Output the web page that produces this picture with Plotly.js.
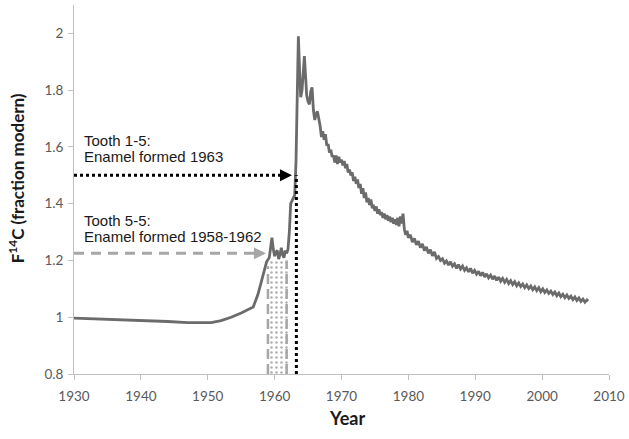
<!DOCTYPE html>
<html>
<head>
<meta charset="utf-8">
<script src="https://cdn.plot.ly/plotly-3.0.1.min.js"></script>
<style>html,body{margin:0;padding:0;background:#fff;}#chart{width:629px;height:439px;}</style>
</head>
<body>
<div id="chart"></div>
<script>
// Atmospheric F14C curve
const years = [
 1930.0,1935.0,1940.0,1944.0,1947.0,1949.0,1950.5,1952.0,1953.5,1955.0,1956.8,1957.5,1958.2,1958.8,
 1959.2,1959.45,1959.6,1959.8,1960.0,1960.2,1960.4,1960.6,1960.8,1961.0,1961.2,1961.4,1961.6,1961.8,1962.0,
 1962.2,1962.4,1962.6,1962.8,1963.0,1963.2,1963.4,1963.55,1963.75,1963.9,1964.1,1964.3,1964.45,1964.6,1964.8,
 1965.0,1965.2,1965.4,1965.6,1965.8,1966.0,1966.2,1966.4,1966.6,1966.8,1967.0,1967.2,1967.4,1967.6,1967.8,
 1968.0,1968.2,1968.4,1968.6,1968.8,1969.0,1969.2,1969.4,1969.6,1969.8,1970.0,1970.2,1970.4,1970.6,1970.8,
 1971.0,1971.2,1971.4,1971.6,1971.8,1972.0,1972.2,1972.4,1972.6,1972.8,1973.0,1973.2,1973.4,1973.6,1973.8,
 1974.0,1974.2,1974.4,1974.6,1974.8,1975.0,1975.2,1975.4,1975.6,1975.8,1976.0,1976.2,1976.4,1976.6,1976.8,
 1977.0,1977.2,1977.4,1977.6,1977.8,1978.0,1978.2,1978.4,1978.6,1978.8,1979.0,1979.2,1979.4,1979.6,1979.8,
 1980.0,1980.3,1980.6,1980.9,1981.2,1981.5,1981.8,1982.1,1982.4,1982.7,1983.0,1983.3,1983.6,1983.9,
 1984.2,1984.5,1984.8,1985.1,1985.4,1985.7,1986.0,1986.3,1986.6,1986.9,1987.2,1987.5,1987.8,1988.1,1988.4,
 1988.7,1989.0,1989.3,1989.6,1989.9,1990.2,1990.5,1990.8,1991.1,1991.4,1991.7,1992.0,1992.3,1992.6,1992.9,
 1993.2,1993.5,1993.8,1994.1,1994.4,1994.7,1995.0,1995.3,1995.6,1995.9,1996.2,1996.5,1996.8,1997.1,1997.4,
 1997.7,1998.0,1998.3,1998.6,1998.9,1999.2,1999.5,1999.8,2000.1,2000.4,2000.7,2001.0,2001.3,2001.6,2001.9,
 2002.2,2002.5,2002.8,2003.1,2003.4,2003.7,2004.0,2004.3,2004.6,2004.9,2005.2,2005.5,2005.8,2006.1,2006.4,
 2006.7,2006.9
];
const f14c = [
 0.997,0.993,0.990,0.985,0.981,0.980,0.981,0.988,1.000,1.015,1.036,1.080,1.140,1.195,
 1.210,1.250,1.280,1.240,1.215,1.230,1.235,1.205,1.220,1.245,1.220,1.210,1.235,1.225,1.240,
 1.300,1.400,1.410,1.420,1.430,1.550,1.850,1.990,1.860,1.775,1.800,1.900,1.920,1.860,1.780,
 1.760,1.750,1.795,1.810,1.730,1.695,1.715,1.725,1.700,1.675,1.635,1.655,1.625,1.645,1.605,
 1.610,1.580,1.590,1.565,1.570,1.545,1.570,1.540,1.565,1.545,1.555,1.535,1.550,1.525,1.540,
 1.510,1.520,1.500,1.510,1.480,1.495,1.470,1.485,1.455,1.470,1.435,1.455,1.420,1.440,1.405,
 1.420,1.395,1.415,1.385,1.390,1.375,1.390,1.365,1.380,1.360,1.370,1.350,1.365,1.345,1.360,
 1.340,1.355,1.335,1.350,1.330,1.345,1.325,1.350,1.320,1.355,1.330,1.365,1.310,1.290,1.305,
 1.280,1.290,1.265,1.278,1.255,1.268,1.245,1.258,1.235,1.248,1.225,1.238,1.216,1.230,
 1.207,1.214,1.200,1.206,1.190,1.198,1.184,1.195,1.180,1.188,1.172,1.185,1.170,1.180,1.165,
 1.174,1.160,1.172,1.155,1.165,1.152,1.162,1.146,1.158,1.142,1.153,1.139,1.148,1.134,1.145,
 1.130,1.141,1.127,1.137,1.123,1.133,1.119,1.129,1.115,1.125,1.111,1.121,1.108,1.117,1.104,
 1.114,1.101,1.110,1.097,1.107,1.094,1.104,1.090,1.100,1.087,1.096,1.084,1.092,1.080,1.089,
 1.076,1.085,1.072,1.081,1.069,1.078,1.066,1.074,1.062,1.071,1.059,1.068,1.056,1.064,1.053,
 1.061,1.057
];
// Tick labels
const xTickVals = [1930,1940,1950,1960,1970,1980,1990,2000,2010];
const yTickVals = [0.8,1,1.2,1.4,1.6,1.8,2];
const yTickText = ['0.8','1','1.2','1.4','1.6','1.8','2'];
// Annotation values
const tooth15 = {level: 1.5, arrowTip: 1962.6, formed: 1963.25};
const tooth55 = {level: 1.225, arrowTip: 1958.7, start: 1959.0, end: 1962.0, top: 1.2};
const tooth15Text = ['Tooth 1-5:', 'Enamel formed 1963'];
const tooth55Text = ['Tooth 5-5:', 'Enamel formed 1958-1962'];

const gray = '#a6a6a6';
const traces = [
  {
    x: [tooth55.start, tooth55.end, tooth55.end, tooth55.start, tooth55.start],
    y: [0.8, 0.8, tooth55.top, tooth55.top, 0.8],
    type: 'scatter', mode: 'lines', fill: 'toself',
    fillcolor: 'rgba(0,0,0,0)',
    fillpattern: {shape: '.', fgcolor: '#b0b0b0', bgcolor: 'rgba(255,255,255,0)', size: 5, solidity: 0.2},
    line: {width: 0}, hoverinfo: 'skip'
  },
  {
    x: years, y: f14c, type: 'scatter', mode: 'lines',
    line: {color: '#6b6b6b', width: 2.8}, hoverinfo: 'skip'
  }
];

const shapes = [
  {type: 'line', xref: 'x', yref: 'y', x0: 1930, x1: tooth15.arrowTip - 0.3, y0: tooth15.level, y1: tooth15.level,
   line: {color: '#000', width: 3, dash: 'dot'}},
  {type: 'line', xref: 'x', yref: 'y', x0: tooth15.formed, x1: tooth15.formed, y0: 0.8, y1: tooth15.level,
   line: {color: '#000', width: 3, dash: 'dot'}},
  {type: 'line', xref: 'x', yref: 'y', x0: 1930, x1: tooth55.arrowTip - 0.4, y0: tooth55.level, y1: tooth55.level,
   line: {color: gray, width: 3, dash: '10px,7px'}},
  {type: 'line', xref: 'x', yref: 'y', x0: tooth55.start, x1: tooth55.start, y0: 0.8, y1: tooth55.top - 0.02,
   line: {color: gray, width: 2.5, dash: '10px,5px'}},
  {type: 'line', xref: 'x', yref: 'y', x0: tooth55.end - 0.2, x1: tooth55.end - 0.2, y0: 0.8, y1: tooth55.top,
   line: {color: gray, width: 2.5, dash: '10px,5px'}}
];

const txtFont = {family: 'Liberation Sans, Arial, sans-serif', size: 15, color: '#1a1a1a'};
const annotations = [
  {x: tooth15.arrowTip, y: tooth15.level, xref: 'x', yref: 'y', ax: -12, ay: 0, text: '', showarrow: true,
   arrowhead: 2, arrowsize: 1.2, arrowwidth: 2, arrowcolor: '#000', standoff: 0},
  {x: tooth55.arrowTip, y: tooth55.level, xref: 'x', yref: 'y', ax: -12, ay: 0, text: '', showarrow: true,
   arrowhead: 2, arrowsize: 1.2, arrowwidth: 2, arrowcolor: gray, standoff: 0},
  {x: 1931.2, y: 1.624, xref: 'x', yref: 'y', xanchor: 'left', yanchor: 'middle', text: tooth15Text[0], showarrow: false, font: txtFont},
  {x: 1931.2, y: 1.566, xref: 'x', yref: 'y', xanchor: 'left', yanchor: 'middle', text: tooth15Text[1], showarrow: false, font: txtFont},
  {x: 1931.2, y: 1.342, xref: 'x', yref: 'y', xanchor: 'left', yanchor: 'middle', text: tooth55Text[0], showarrow: false, font: txtFont},
  {x: 1931.2, y: 1.284, xref: 'x', yref: 'y', xanchor: 'left', yanchor: 'middle', text: tooth55Text[1], showarrow: false, font: txtFont},
  {x: -0.108, y: 0.531, xref: 'paper', yref: 'paper', xanchor: 'center', yanchor: 'middle', textangle: -90, showarrow: false,
   text: 'F<sup>14</sup>C (fraction modern)', font: {family: 'Lato, Carlito, sans-serif', size: 17, color: '#1a1a1a', weight: 'bold'}},
  {x: 0.51, y: -0.119, xref: 'paper', yref: 'paper', xanchor: 'center', yanchor: 'middle', showarrow: false, text: 'Year',
   font: {family: 'Lato, Carlito, sans-serif', size: 18, color: '#1a1a1a', weight: 'bold'}}
];

const tickFont = {family: 'Lato, Carlito, sans-serif', size: 13.5, color: '#595959'};
const layout = {
  width: 629, height: 439,
  margin: {l: 74, r: 20, t: 5, b: 65},
  paper_bgcolor: '#fff', plot_bgcolor: '#fff',
  showlegend: false,
  xaxis: {range: [1930, 2010], tickvals: xTickVals, showgrid: false, zeroline: false,
    showline: true, linecolor: '#c0c0c0', linewidth: 1, ticks: 'outside', ticklen: 5, tickcolor: '#c0c0c0',
    tickfont: tickFont, ticklabelstandoff: 5},
  yaxis: {range: [0.8, 2.1], tickvals: yTickVals, ticktext: yTickText, showgrid: false, zeroline: false,
    showline: true, linecolor: '#c0c0c0', linewidth: 1, ticks: 'outside', ticklen: 5, tickcolor: '#c0c0c0',
    tickfont: tickFont, ticklabelstandoff: 2},
  shapes: shapes,
  annotations: annotations
};
Plotly.newPlot('chart', traces, layout, {staticPlot: true, displayModeBar: false});
</script>
</body>
</html>
